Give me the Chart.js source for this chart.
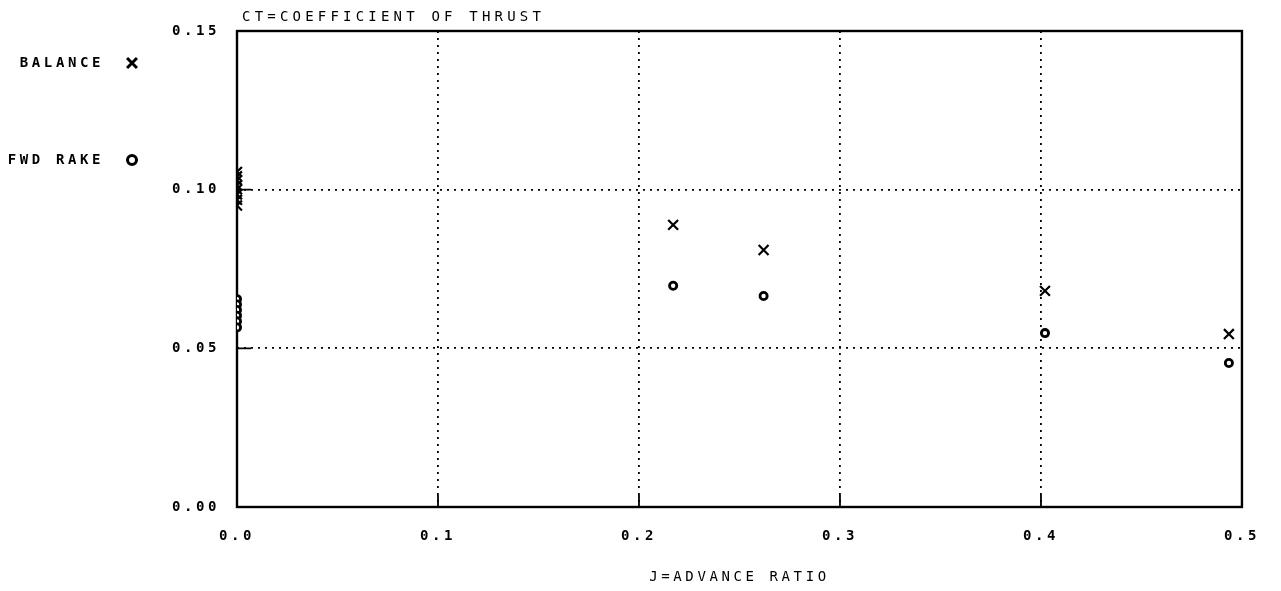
<!DOCTYPE html>
<html>
<head>
<meta charset="utf-8">
<title>CT vs J</title>
<script src="https://cdn.jsdelivr.net/npm/chart.js@4/dist/chart.umd.min.js"></script>
<style>
  html, body { margin: 0; padding: 0; background: #fff; }
  #wrap { width: 1281px; height: 591px; }
</style>
</head>
<body>
<div id="wrap"><canvas id="thrust"></canvas></div>
<script>
const xTicks = [0, 0.1, 0.2, 0.3, 0.4, 0.5];
const yTicks = [0, 0.05, 0.10, 0.15];

// balance runs, the J=0 points are the bollard readings stacked on the axis
const balanceJ = [0, 0, 0, 0, 0, 0, 0, 0, 0.217, 0.262, 0.402, 0.4935];
const balanceCT = [0.1056, 0.1042, 0.1030, 0.1013, 0.1001, 0.0985, 0.0968, 0.0950, 0.0889, 0.0810, 0.0681, 0.0545];

// forward rake runs
const rakeJ = [0, 0, 0, 0, 0, 0, 0.217, 0.262, 0.402, 0.4935];
const rakeCT = [0.0655, 0.0638, 0.0621, 0.0603, 0.0585, 0.0566, 0.0697, 0.0665, 0.0548, 0.0454];

const seriesNames = ['BALANCE', 'FWD RAKE'];
const chartTitle = 'CT=COEFFICIENT OF THRUST';
const xTitle = 'J=ADVANCE RATIO';

const mono = '"DejaVu Sans Mono", "Liberation Mono", monospace';
const ink = '#000';

Chart.defaults.font.family = mono;
Chart.defaults.color = ink;

const toPoints = (xs, ys) => xs.map((v, i) => ({ x: v, y: ys[i] }));

// plotter text is widely spaced, canvas resets state on resize so set it every pass
const spacing = {
  id: 'spacing',
  beforeUpdate(chart) { chart.ctx.letterSpacing = '3.6px'; },
  beforeDraw(chart) { chart.ctx.letterSpacing = '3.6px'; }
};

const frame = {
  id: 'frame',
  beforeDatasetsDraw(chart) {
    const { ctx, chartArea: a, scales: { x, y } } = chart;
    ctx.save();
    ctx.strokeStyle = ink;
    ctx.lineWidth = 2.4;
    ctx.strokeRect(a.left, a.top, a.right - a.left, a.bottom - a.top);
    // short solid stubs where the dotted grid meets the axes
    ctx.beginPath();
    xTicks.slice(1, -1).forEach((v) => {
      const px = x.getPixelForValue(v);
      ctx.moveTo(px, a.bottom);
      ctx.lineTo(px, a.bottom - 12);
    });
    yTicks.slice(1, -1).forEach((v) => {
      const py = y.getPixelForValue(v);
      ctx.moveTo(a.left, py);
      ctx.lineTo(a.left + 14, py);
    });
    ctx.lineWidth = 1.8;
    ctx.stroke();
    ctx.restore();
  },
  afterDraw(chart) {
    const { ctx, chartArea: a } = chart;
    ctx.save();
    ctx.fillStyle = ink;
    ctx.textBaseline = 'middle';

    ctx.letterSpacing = '4.2px';
    ctx.font = `14px ${mono}`;
    ctx.textAlign = 'left';
    ctx.fillText(chartTitle, a.left + 5, 17);

    // legend sits to the left of the value labels
    ctx.letterSpacing = '3.6px';
    ctx.font = `bold 14px ${mono}`;
    ctx.textAlign = 'right';
    const rows = [63, 160];
    chart.data.datasets.forEach((ds, i) => {
      ctx.fillStyle = ink;
      ctx.fillText(ds.label, 104, rows[i]);
      ctx.strokeStyle = ink;
      ctx.fillStyle = '#fff';
      ctx.lineWidth = 3;
      Chart.helpers.drawPoint(ctx, {
        pointStyle: ds.pointStyle,
        radius: ds.pointStyle === 'circle' ? 4.5 : 7,
        borderWidth: 3,
        rotation: 0
      }, 132, rows[i]);
    });
    ctx.restore();
  }
};

new Chart('thrust', {
  type: 'scatter',
  data: {
    datasets: [
      {
        label: seriesNames[0],
        data: toPoints(balanceJ, balanceCT),
        pointStyle: 'crossRot',
        pointRadius: 7,
        pointBorderWidth: 2.2,
        borderColor: ink,
        backgroundColor: ink
      },
      {
        label: seriesNames[1],
        data: toPoints(rakeJ, rakeCT),
        pointStyle: 'circle',
        pointRadius: 3.6,
        pointBorderWidth: 2.8,
        borderColor: ink,
        backgroundColor: '#fff'
      }
    ]
  },
  options: {
    responsive: true,
    maintainAspectRatio: false,
    animation: false,
    layout: { padding: { left: 0, right: 30, top: 31, bottom: 0 } },
    plugins: {
      legend: { display: false },
      tooltip: { enabled: false }
    },
    scales: {
      x: {
        type: 'linear',
        min: 0,
        max: 0.5,
        afterBuildTicks: (s) => { s.ticks = xTicks.map((v) => ({ value: v })); },
        afterFit: (s) => { s.height = 84; },
        ticks: {
          padding: 21,
          font: { size: 14, weight: 'bold' },
          callback: (v) => Number(v).toFixed(1)
        },
        grid: { color: ink, lineWidth: 1.8, drawTicks: false },
        border: { display: false, dash: [2, 5] },
        title: {
          display: true,
          text: xTitle,
          font: { size: 14 },
          padding: { top: 0, bottom: 5 }
        }
      },
      y: {
        type: 'linear',
        min: 0,
        max: 0.15,
        afterBuildTicks: (s) => { s.ticks = yTicks.map((v) => ({ value: v })); },
        afterFit: (s) => { s.width = 237; },
        ticks: {
          padding: 17,
          font: { size: 14, weight: 'bold' },
          callback: (v) => Number(v).toFixed(2)
        },
        grid: { color: ink, lineWidth: 1.8, drawTicks: false },
        border: { display: false, dash: [2, 5] }
      }
    }
  },
  plugins: [spacing, frame]
});
</script>
</body>
</html>
